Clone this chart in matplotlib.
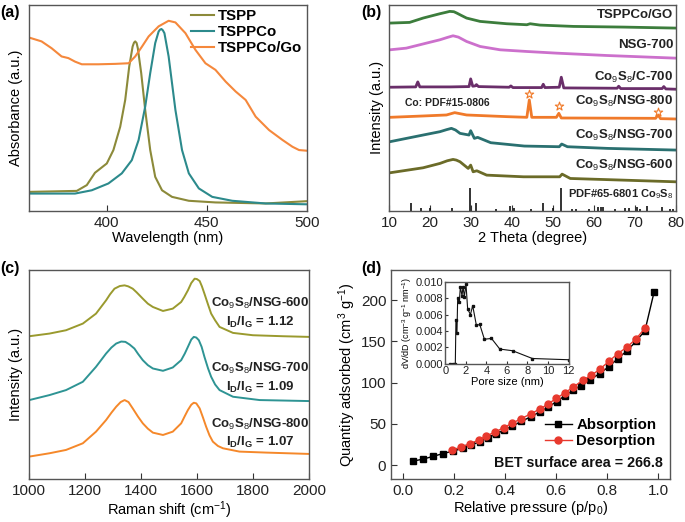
import matplotlib
matplotlib.use("Agg")
import matplotlib.pyplot as plt
import numpy as np

plt.rcParams['font.family'] = ['Liberation Sans', 'DejaVu Sans']
plt.rcParams['mathtext.fontset'] = 'custom'
plt.rcParams['mathtext.rm'] = 'Liberation Sans'
plt.rcParams['mathtext.bf'] = 'Liberation Sans:bold'
plt.rcParams['mathtext.it'] = 'Liberation Sans:italic'

# ---------------- (a) UV-vis ----------------
tspp_x = [360.4, 385.0, 390.0, 394.1, 400.0, 403.3, 406.7, 409.2, 411.2, 412.9, 413.6, 414.2, 414.9, 415.5, 417.2,
          419.2, 421.7, 424.2, 427.6, 432.6, 441.0, 454.3, 479.4, 499.8]
tspp_y = [0.092, 0.097, 0.125, 0.185, 0.230, 0.295, 0.408, 0.538, 0.700, 0.797, 0.816, 0.822, 0.814, 0.789, 0.668,
          0.489, 0.295, 0.165, 0.100, 0.068, 0.049, 0.041, 0.036, 0.047]
tsppco_x = [360.4, 384.1, 392.5, 400.8, 407.5, 412.5, 415.9, 419.2, 421.7, 424.2, 425.9, 426.6, 427.3, 428.0,
            428.8, 430.9, 434.3, 437.6, 441.0, 446.0, 452.7, 462.7, 479.4, 499.8]
tsppco_y = [0.084, 0.084, 0.100, 0.133, 0.182, 0.246, 0.344, 0.506, 0.668, 0.814, 0.870, 0.879, 0.882, 0.876,
            0.862, 0.749, 0.489, 0.295, 0.182, 0.109, 0.068, 0.049, 0.036, 0.032]
go_x = [360.4, 367.4, 372.4, 377.4, 380.8, 384.1, 387.5, 395.8, 404.2, 410.9, 414.2, 417.6, 420.9, 425.9,
        430.9, 434.3, 439.3, 444.3, 449.3, 454.3, 459.4, 464.4, 469.4, 474.4, 481.1, 487.8, 492.8, 496.1, 499.8]
go_y = [0.843, 0.822, 0.789, 0.749, 0.741, 0.724, 0.711, 0.711, 0.713, 0.716, 0.749, 0.797, 0.846, 0.895,
        0.922, 0.914, 0.862, 0.781, 0.716, 0.684, 0.627, 0.579, 0.538, 0.457, 0.392, 0.344, 0.311, 0.295, 0.292]
a_labels = ['TSPP', 'TSPPCo', 'TSPPCo/Go']
a_ticks = [400, 450, 500]

# ---------------- (b) XRD ----------------
b_labels = ['TSPPCo/GO', 'NSG-700', 'Co$_9$S$_8$/C-700', 'Co$_9$S$_8$/NSG-800', 'Co$_9$S$_8$/NSG-700',
            'Co$_9$S$_8$/NSG-600']
b_label_y = [587, 497, 400, 327, 225, 137]
go_xrd_x = [10.2, 15.0, 18.3, 20.5, 22.4, 23.8, 24.8, 25.8, 26.5, 27.6, 28.9, 32.2, 38.7, 43.6, 44.4, 46.8, 55.0,
            67.2, 80.0]
go_xrd_y = [562, 564, 577, 584, 590, 594, 597, 596, 592, 585, 577, 567, 560, 557, 560, 556, 552, 550, 547]
nsg_x = [10.2, 14.2, 19.1, 22.4, 24.2, 25.6, 26.9, 28.9, 32.2, 37.1, 43.6, 50.9, 63.1, 80.0]
nsg_y = [482, 487, 502, 512, 519, 524, 520, 507, 492, 482, 477, 472, 465, 457]
c700_x = [10, 16.5, 17, 17.5, 25, 29.5, 29.9, 30.4, 31.0, 31.3, 31.8, 39.3, 39.7, 40.2, 47.2, 47.6, 48.0,
          51.5, 52.0, 52.6, 65.6, 66.0, 66.5, 76.6, 77.0, 77.5, 80]
c700_y = [370, 371, 386, 371, 371, 372, 395, 373, 374, 378, 372, 370, 374, 369, 369, 379, 369,
          370, 400, 368, 367, 373, 366, 366, 372, 365, 364]
n800_x = [10.2, 18.3, 24.0, 26.0, 28.9, 38.7, 43.6, 44.2, 44.8, 50.8, 51.4, 52.0, 75.0, 75.6, 76.2, 80.0]
n800_y = [280, 284, 287, 294, 287, 282, 280, 332, 280, 280, 292, 278, 277, 287, 276, 275]
star_x = [44.2, 51.4, 75.6]
star_y = [350, 314, 295]
n700_x = [10.2, 18.3, 22.4, 24.0, 25.2, 26.2, 27.3, 29.5, 29.9, 30.8, 31.6, 34.8, 43.0, 51.5, 52.1, 53.5, 63.3, 80.0]
n700_y = [207, 227, 237, 243, 247, 242, 232, 227, 240, 217, 220, 204, 194, 192, 200, 192, 187, 182]
n600_x = [10.2, 18.3, 22.4, 24.2, 25.6, 26.4, 27.3, 29.3, 29.9, 30.5, 31.4, 33.8, 42.8, 51.6, 52.2, 54.2, 67.2, 80.0]
n600_y = [114, 129, 142, 150, 154, 152, 147, 127, 137, 117, 120, 107, 102, 102, 110, 97, 92, 87]
ref_x = [15.4, 17.9, 20.0, 25.3, 29.8, 31.2, 36.0, 39.5, 40.4, 44.5, 47.5, 50.0, 52.0, 54.5, 55.5, 58.8,
         61.0, 61.8, 62.2, 65.0, 67.5, 68.5, 70.5, 71.2, 73.0, 76.5, 78.6, 79.2]
ref_h = [25, 10, 10, 10, 67, 25, 7, 15, 10, 7, 25, 10, 67, 7, 7, 7,
         12, 12, 12, 7, 10, 10, 12, 7, 15, 12, 7, 7]

# ---------------- (c) Raman ----------------
r600_x = [1002, 1074, 1133, 1193, 1240, 1276, 1290, 1306, 1325, 1342, 1355, 1371, 1385, 1407, 1425, 1443, 1479,
          1514, 1544, 1555, 1568, 1580, 1592, 1600, 1610, 1618, 1627, 1640, 1651, 1665, 1681, 1729, 1800, 1907, 2000]
r600_y = [430, 438, 448, 468, 498, 538, 556, 573, 581, 583, 580, 573, 562, 543, 528, 518, 506,
          513, 533, 548, 568, 590, 603, 602, 596, 580, 558, 525, 498, 478, 458, 440, 433, 430, 428]
r700_x = [1002, 1074, 1133, 1193, 1240, 1276, 1295, 1312, 1330, 1345, 1360, 1377, 1390, 1407, 1425, 1443, 1479,
          1514, 1544, 1557, 1568, 1580, 1589, 1598, 1607, 1617, 1627, 1640, 1651, 1665, 1681, 1729, 1824, 2000]
r700_y = [238, 253, 268, 293, 338, 378, 396, 408, 414, 413, 405, 393, 377, 358, 343, 333, 326,
          336, 358, 378, 398, 420, 428, 426, 418, 398, 368, 333, 308, 285, 268, 248, 238, 235]
r800_x = [1002, 1074, 1133, 1193, 1240, 1276, 1295, 1312, 1328, 1342, 1356, 1371, 1390, 1407, 1425, 1443, 1479,
          1514, 1544, 1557, 1568, 1580, 1589, 1598, 1610, 1622, 1633, 1645, 1657, 1675, 1693, 1752, 1848, 2000]
r800_y = [68, 78, 88, 108, 143, 178, 200, 218, 232, 238, 232, 213, 188, 168, 152, 140, 133,
          143, 168, 190, 208, 224, 230, 228, 213, 185, 158, 132, 113, 100, 93, 83, 80, 76]
c_names = ['Co$_9$S$_8$/NSG-600', 'Co$_9$S$_8$/NSG-700', 'Co$_9$S$_8$/NSG-800']
c_ratios = ['1.12', '1.09', '1.07']
c_label_y = [500, 305, 137]

# ---------------- (d) BET ----------------
ads_x = [0.039, 0.078, 0.117, 0.156, 0.195, 0.234, 0.268, 0.302, 0.335, 0.364, 0.395, 0.429, 0.464, 0.500,
         0.536, 0.569, 0.602, 0.634, 0.665, 0.697, 0.732, 0.771, 0.808, 0.842, 0.878, 0.914, 0.949, 0.985]
ads_y = [4.9, 7.3, 10.6, 14, 17, 20.5, 24.5, 28.5, 33.5, 37.5, 42.5, 47.5, 53, 58.5,
         64.5, 70.5, 77, 84, 90.5, 96.5, 103, 111, 119.5, 129, 138.5, 150, 163, 210]
des_x = [0.19, 0.229, 0.262, 0.297, 0.327, 0.36, 0.395, 0.429, 0.464, 0.50, 0.536, 0.569, 0.601, 0.634,
         0.667, 0.706, 0.739, 0.771, 0.808, 0.842, 0.878, 0.914, 0.949]
des_y = [17.8, 21.9, 26, 30.5, 35.5, 40, 45.5, 51, 56.5, 62, 68, 74, 81, 87.5,
         94.5, 103, 109, 116, 126, 135, 143, 153, 166]
pore_x = [0.49, 0.75, 0.98, 1.04, 1.14, 1.21, 1.37, 1.47, 1.63, 1.73, 1.86, 2.02, 2.18, 2.45, 2.67, 3.03,
          3.36, 3.81, 4.5, 5.31, 6.55, 8.48, 12.0]
pore_y = [0, 0, 0, 0.0054, 0.0038, 0.0080, 0.0076, 0.0094, 0.0083, 0.0094, 0.0082, 0.0097, 0.0067, 0.0060,
          0.0071, 0.0047, 0.0048, 0.0030, 0.0031, 0.0018, 0.0016, 0.00065, 0.0005]

SP = '#555555'
fig = plt.figure(figsize=(6.85, 5.22), dpi=100)


def style(ax):
    for s in ax.spines.values():
        s.set_color(SP)
        s.set_linewidth(1.0)
    ax.tick_params(direction='in', colors='#333333', labelsize=11, length=4, width=0.8, labelcolor='#222222')


# (a)
axa = fig.add_axes([0.042, 0.596, 0.406, 0.395])
axa.plot(tspp_x, tspp_y, color='#8c8a3a', lw=1.5, label=a_labels[0])
axa.plot(tsppco_x, tsppco_y, color='#2c8a8c', lw=1.5, label=a_labels[1])
axa.plot(go_x, go_y, color='#f5883c', lw=1.5, label=a_labels[2])
axa.set_xlim(361, 500)
axa.set_ylim(0, 1)
axa.set_xticks(a_ticks)
axa.set_yticks([])
style(axa)
axa.set_xlabel('Wavelength (nm)', fontsize=10.5, labelpad=1)
axa.set_ylabel('Absorbance (a.u.)', fontsize=10.5, labelpad=4)
axa.legend(loc='upper right', frameon=False, prop={'weight': 'bold', 'size': 10.8}, handlelength=1.5,
           handletextpad=0.3, labelspacing=0.12, borderaxespad=0.1, borderpad=0.2)

# (b)
axb = fig.add_axes([0.568, 0.596, 0.419, 0.395])
cols_b = ['#3c7d3c', '#cc70cc', '#6a2e6a', '#f07a2a', '#2a7070', '#6b6b28']
for (xx, yy), c in zip([(go_xrd_x, go_xrd_y), (nsg_x, nsg_y), (c700_x, c700_y), (n800_x, n800_y),
                        (n700_x, n700_y), (n600_x, n600_y)], cols_b):
    axb.plot(xx, yy, color=c, lw=2.0)
axb.vlines(ref_x, 0, ref_h, color='#111111', lw=1.2)
axb.scatter(star_x, star_y, marker='*', s=40, facecolors='white', edgecolors='#f07a2a', linewidths=0.8, zorder=3)
for lab, yy in zip(b_labels, b_label_y):
    axb.text(79.3, yy, lab, ha='right', va='center', fontsize=9.5, fontweight='bold', color='#222222')
axb.text(24.3, 322, 'Co: PDF#15-0806', ha='center', va='center', fontsize=7.5, fontweight='bold', color='#222222')
axb.text(79.3, 50, 'PDF#65-6801 Co$_9$S$_8$', ha='right', va='center', fontsize=8, fontweight='bold',
         color='#222222')
axb.set_xlim(10, 80)
axb.set_ylim(0, 617)
axb.set_xticks(range(10, 81, 10))
axb.set_yticks([])
style(axb)
axb.set_xlabel('2 Theta (degree)', fontsize=10.5, labelpad=1)
axb.set_ylabel('Intensity (a.u.)', fontsize=10.5, labelpad=4)

# (c)
axc = fig.add_axes([0.042, 0.082, 0.409, 0.40])
axc.plot(r600_x, r600_y, color='#9a9a2e', lw=1.4)
axc.plot(r700_x, r700_y, color='#2e9494', lw=1.4)
axc.plot(r800_x, r800_y, color='#f5882a', lw=1.4)
for nm, rt, yy in zip(c_names, c_ratios, c_label_y):
    axc.text(1826, yy, nm + '\nI$_\\mathbf{D}$/I$_\\mathbf{G}$ = ' + rt, ha='center', va='center',
             fontsize=9.5, fontweight='bold', color='#222222', linespacing=1.3)
axc.set_xlim(1000, 2000)
axc.set_ylim(0, 628)
axc.set_xticks(range(1000, 2001, 200))
axc.set_yticks([])
style(axc)
axc.set_xlabel('Raman shift (cm$^{-1}$)', fontsize=10.5, labelpad=1)
axc.set_ylabel('Intensity (a.u.)', fontsize=10.5, labelpad=4)

# (d)
axd = fig.add_axes([0.571, 0.082, 0.407, 0.40])
axd.plot(des_x, des_y, color='#e8392e', lw=1.0, marker='o', ms=5, mfc='#e8392e', mec='#e8392e',
         label='Desorption', zorder=3)
axd.plot(ads_x, ads_y, color='black', lw=1.0, marker='s', ms=4.5, label='Absorption', zorder=2)
axd.set_xlim(-0.047, 1.047)
axd.set_ylim(-17, 236)
axd.set_xticks(np.arange(0, 1.01, 0.2))
axd.set_xticklabels(['0.0', '0.2', '0.4', '0.6', '0.8', '1.0'])
axd.set_yticks([0, 50, 100, 150, 200])
style(axd)
axd.set_xlabel('Relative pressure (p/p$_0$)', fontsize=10.5, labelpad=1)
axd.set_ylabel('Quantity adsorbed (cm$^3$ g$^{-1}$)', fontsize=10.5, labelpad=2)
h, l = axd.get_legend_handles_labels()
axd.legend([h[1], h[0]], [l[1], l[0]], loc='lower right', bbox_to_anchor=(1.0, 0.085), frameon=False,
           prop={'weight': 'bold', 'size': 10.8}, handlelength=1.8, handletextpad=0.3, labelspacing=0.12)
axd.text(0.975, 0.077, 'BET surface area = 266.8', transform=axd.transAxes, ha='right', va='center',
         fontsize=10.3, fontweight='bold', color='#111111')

# inset
axi = fig.add_axes([0.650, 0.303, 0.180, 0.157])
axi.plot(pore_x, pore_y, color='#111111', lw=0.8, marker='s', ms=2)
axi.set_xlim(0, 12)
axi.set_ylim(0, 0.010)
axi.set_xticks(range(0, 13, 2))
axi.set_yticks(np.arange(0, 0.0101, 0.002))
axi.set_yticklabels(['0.000', '0.002', '0.004', '0.006', '0.008', '0.010'])
style(axi)
axi.tick_params(labelsize=8, length=2.5, pad=1.5)
axi.set_xlabel('Pore size (nm)', fontsize=8, labelpad=0.5)
axi.set_ylabel('dV/dD (cm$^{-3}$ g$^{-1}$ nm$^{-1}$)', fontsize=6.5, labelpad=1)

# panel labels
for t, x, y in [('(a)', 0.001, 0.99), ('(b)', 0.528, 0.99), ('(c)', 0.001, 0.50), ('(d)', 0.527, 0.50)]:
    fig.text(x, y, t, fontsize=11.5, fontweight='bold', ha='left', va='top')

fig.savefig('out.png', dpi=100)
